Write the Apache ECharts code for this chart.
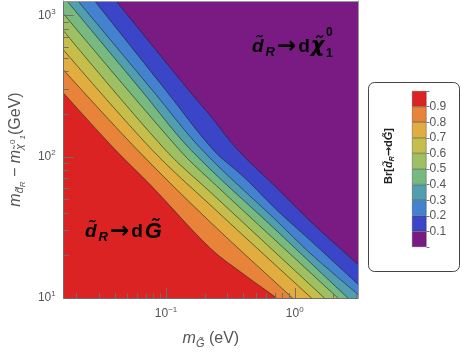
<!DOCTYPE html>
<html>
<head>
<meta charset="utf-8">
<script src="https://cdn.jsdelivr.net/npm/echarts@6/dist/echarts.min.js"></script>
<style>
  html, body { margin: 0; padding: 0; background: #fff; }
  #chart { width: 462px; height: 356px; }
</style>
</head>
<body>
<div id="chart"></div>
<script>
// Contour boundaries of Br(dR -> d Gravitino).
// Each point: [m_G (eV), m_dR - m_chi (GeV)]
var br90 = [[0.0160, 282], [0.0407, 111], [0.0761, 62.8], [0.222, 22.4], [0.415, 14.4], [0.721, 10], [3.10, 3.57]];
var br80 = [[0.0160, 411], [0.0603, 111], [0.222, 34.3], [0.960, 10], [3.10, 3.75]];
var br70 = [[0.0160, 569], [0.0785, 111], [0.222, 45.3], [1.347, 10], [3.10, 5.0]];
var br60 = [[0.0160, 777], [0.0995, 111], [0.222, 56.0], [1.699, 10], [3.10, 6.0]];
var br50 = [[0.0160, 1025], [0.128, 111], [0.222, 68.1], [2.162, 10], [3.10, 7.4]];
var br40 = [[0.0170, 1267], [0.0641, 296], [0.157, 111], [0.730, 29.7], [2.585, 10], [3.10, 8.6]];
var br30 = [[0.0207, 1267], [0.0782, 296], [0.192, 111], [0.730, 34.9], [1.32, 20.7], [3.10, 10.6]];
var br20 = [[0.0279, 1267], [0.0995, 296], [0.234, 111], [0.402, 71.9], [0.730, 41.7], [1.32, 25.6], [3.10, 12.5]];
var br10 = [[0.0410, 1267], [0.150, 296], [0.222, 194], [0.363, 111], [0.730, 59.8], [1.32, 34.9], [3.10, 17.3]];

// colour of each band, from Br < 0.1 up to Br > 0.9
var bandColors = ['#7a1b84', '#3b45c8', '#4482d0', '#519fae', '#77b97f',
                  '#9fc062', '#c5be4a', '#e0ad3e', '#e8833a', '#db2323'];
var levels = [0.1, 0.2, 0.3, 0.4, 0.5, 0.6, 0.7, 0.8, 0.9];
var boundaries = [br10, br20, br30, br40, br50, br60, br70, br80, br90];

var xRange = [0.01602, 3.10];
var yRange = [10, 1267];
var xMajor = [0.1, 1];
var xMinor = [0.02, 0.03, 0.04, 0.05, 0.06, 0.07, 0.08, 0.09,
              0.2, 0.3, 0.4, 0.5, 0.6, 0.7, 0.8, 0.9, 2, 3];
var yMajor = [10, 100, 1000];
var yMinor = [20, 30, 40, 50, 60, 70, 80, 90, 200, 300, 400, 500, 600, 700, 800, 900];

var FONT = "'Liberation Sans', Arial, sans-serif";
var ALT_FONT = "'DejaVu Sans', sans-serif";
var AXIS = '#6e6e6e';
var TEXT = '#555';

var lg = Math.log10;
function toLog(pts) { return pts.map(function (p) { return [lg(p[0]), lg(p[1])]; }); }

var powRich = {
  sup: { fontSize: 8, fontFamily: FONT, color: TEXT, padding: [0, 0, 8, 0] }
};
function powLabel(v) {
  var e = Math.round(v);
  return '10{sup|' + (e < 0 ? '\u2212' + (-e) : e) + '}';
}

var chart = echarts.init(document.getElementById('chart'), null, { renderer: 'canvas' });

// contour bands: paint from highest Br boundary upwards, each fills the region above it
var series = [];
for (var i = boundaries.length - 1; i >= 0; i--) {
  series.push({
    type: 'line',
    xAxisIndex: 0, yAxisIndex: 0,
    data: toLog(boundaries[i]),
    symbol: 'none',
    smooth: 0.35,
    silent: true,
    z: 2,
    lineStyle: { color: 'rgba(30,30,30,0.65)', width: 0.9 },
    areaStyle: { color: bandColors[i], opacity: 1, origin: 'end' }
  });
}
// colour bar: stacked 0.1 blocks
bandColors.forEach(function (c) {
  series.push({
    type: 'bar', xAxisIndex: 3, yAxisIndex: 3, stack: 'cb',
    barWidth: '100%', silent: true,
    data: [0.1],
    itemStyle: { color: c, borderColor: 'rgba(40,40,40,0.7)', borderWidth: 0.5 }
  });
});

var xMin = lg(xRange[0]), xMax = lg(xRange[1]);
var yMin = lg(yRange[0]), yMax = lg(yRange[1]);

function frameAxis(extra) {
  return Object.assign({
    type: 'value', gridIndex: 0, z: 10, offset: 0,
    axisLine: { show: false, onZero: false },
    axisTick: { show: false }, axisLabel: { show: false }, splitLine: { show: false }
  }, extra);
}

var bigText = {
  b: { fontSize: 19, fontWeight: 'bold', fontFamily: FONT, fill: '#000' },
  a: { fontSize: 23, fontWeight: 'bold', fontFamily: ALT_FONT, fill: '#000', padding: [0, 2, 0, 0] },
  i: { fontSize: 19, fontWeight: 'bold', fontStyle: 'italic', fontFamily: FONT, fill: '#000' },
  g: { fontSize: 22, fontWeight: 'bold', fontStyle: 'italic', fontFamily: FONT, fill: '#000', padding: [0, 0, 0, 2] },
  c: { fontSize: 21, fontWeight: 'bold', fontStyle: 'italic', fontFamily: ALT_FONT, fill: '#000', padding: [0, 0, 0, 1] },
  s: { fontSize: 13, fontWeight: 'bold', fontStyle: 'italic', fontFamily: FONT, fill: '#000', padding: [10, 2, 0, 2] }
};

chart.setOption({
  animation: false,
  grid: [
    { left: 62, top: 1, right: 104, bottom: 58, show: true, backgroundColor: bandColors[9], borderWidth: 0 },
    { left: 412, top: 91, width: 14.5, height: 156 }
  ],
  xAxis: [
    frameAxis({
      min: xMin, max: xMax, position: 'bottom',
      axisLine: { show: true, onZero: false, lineStyle: { color: AXIS } },
      axisTick: { show: true, inside: true, length: 10, customValues: xMajor.map(lg), lineStyle: { color: AXIS } },
      axisLabel: { show: true, customValues: xMajor.map(lg), formatter: powLabel, rich: powRich,
                   fontSize: 12, fontFamily: FONT, color: TEXT, margin: 8 },
      name: '{m|m}{s|G\u0303}{n| (eV)}', nameLocation: 'middle', nameGap: 30,
      nameTextStyle: {
        rich: {
          m: { fontSize: 16, fontStyle: 'italic', fontFamily: FONT, color: TEXT },
          s: { fontSize: 11, fontStyle: 'italic', fontFamily: FONT, color: TEXT, padding: [10, 0, 0, 0] },
          n: { fontSize: 16, fontFamily: FONT, color: TEXT }
        }
      }
    }),
    frameAxis({
      min: xMin, max: xMax, position: 'bottom',
      axisTick: { show: true, inside: true, length: 5, customValues: xMinor.map(lg), lineStyle: { color: AXIS } }
    }),
    frameAxis({
      min: xMin, max: xMax, position: 'top',
      axisLine: { show: true, onZero: false, lineStyle: { color: '#9a9a9a' } }
    }),
    { type: 'category', gridIndex: 1, data: ['Br'], show: false }
  ],
  yAxis: [
    frameAxis({
      min: yMin, max: yMax, position: 'left',
      axisLine: { show: true, onZero: false, lineStyle: { color: AXIS } },
      axisTick: { show: true, inside: true, length: 10, customValues: yMajor.map(lg), lineStyle: { color: AXIS } },
      axisLabel: { show: true, customValues: yMajor.map(lg), formatter: powLabel, rich: powRich,
                   fontSize: 12, fontFamily: FONT, color: TEXT, margin: 8 },
      name: '{m|m}{s|d\u0303}{ss|R}{n| \u2212 }{m|m}{s|\u03c7\u0303}{sp|0}{ss|1}{n|(GeV)}',
      nameLocation: 'middle', nameGap: 35, nameRotate: 90,
      nameTextStyle: {
        rich: {
          m: { fontSize: 16, fontStyle: 'italic', fontFamily: FONT, color: TEXT },
          s: { fontSize: 11, fontStyle: 'italic', fontFamily: FONT, color: TEXT, padding: [8, 0, 0, 0] },
          ss: { fontSize: 8, fontStyle: 'italic', fontFamily: FONT, color: TEXT, padding: [14, 0, 0, 0] },
          sp: { fontSize: 8, fontFamily: FONT, color: TEXT, padding: [0, 0, 6, 0] },
          n: { fontSize: 16, fontFamily: FONT, color: TEXT }
        }
      }
    }),
    frameAxis({
      min: yMin, max: yMax, position: 'left',
      axisTick: { show: true, inside: true, length: 5, customValues: yMinor.map(lg), lineStyle: { color: AXIS } }
    }),
    frameAxis({
      min: yMin, max: yMax, position: 'right',
      axisLine: { show: true, onZero: false, lineStyle: { color: '#9a9a9a' } }
    }),
    {
      type: 'value', gridIndex: 1, min: 0, max: 1, interval: 0.1, position: 'right',
      axisLine: { show: false },
      axisTick: { show: true, length: 3, lineStyle: { color: '#777' } },
      axisLabel: {
        fontSize: 12, fontFamily: FONT, color: TEXT, margin: 3,
        formatter: function (v) { return (v > 0.05 && v < 0.95) ? v.toFixed(1) : ''; }
      },
      splitLine: { show: false }
    }
  ],
  graphic: [
    {
      type: 'rect', z: 0, shape: { x: 368.5, y: 82.5, width: 91, height: 189, r: 6 },
      style: { fill: '#fff', stroke: '#444', lineWidth: 1 }
    },
    {
      type: 'text', z: 100, x: 389, y: 156, rotation: Math.PI / 2,
      style: {
        text: '{b|Br[}{i|d\u0303}{s|R}{a|\u2192}{b|d}{i|G\u0303}{b|]}',
        align: 'center', verticalAlign: 'middle',
        rich: {
          b: { fontSize: 11, fontWeight: 'bold', fontFamily: FONT, fill: '#222' },
          a: { fontSize: 11, fontWeight: 'bold', fontFamily: ALT_FONT, fill: '#222' },
          i: { fontSize: 11, fontWeight: 'bold', fontStyle: 'italic', fontFamily: FONT, fill: '#222' },
          s: { fontSize: 7, fontWeight: 'bold', fontStyle: 'italic', fontFamily: FONT, fill: '#222', padding: [6, 0, 0, 0] }
        }
      }
    },
    {
      type: 'text', z: 100, x: 85, y: 232,
      style: {
        text: '{i|d\u0303}{s|R}{a|\u2192}{b|d}{g|G\u0303}',
        align: 'left', verticalAlign: 'middle', rich: bigText
      }
    },
    {
      type: 'text', z: 100, x: 252, y: 47,
      style: {
        text: '{i|d\u0303}{s|R}{a|\u2192}{b|d}{c|\u03c7\u0303}',
        align: 'left', verticalAlign: 'middle', rich: bigText
      }
    },
    {
      type: 'text', z: 100, x: 326, y: 33,
      style: { text: '0', align: 'left', verticalAlign: 'middle', fontSize: 12, fontWeight: 'bold', fontFamily: FONT, fill: '#000' }
    },
    {
      type: 'text', z: 100, x: 326, y: 54,
      style: { text: '1', align: 'left', verticalAlign: 'middle', fontSize: 12, fontWeight: 'bold', fontFamily: FONT, fill: '#000' }
    }
  ],
  series: series
});
</script>
</body>
</html>
